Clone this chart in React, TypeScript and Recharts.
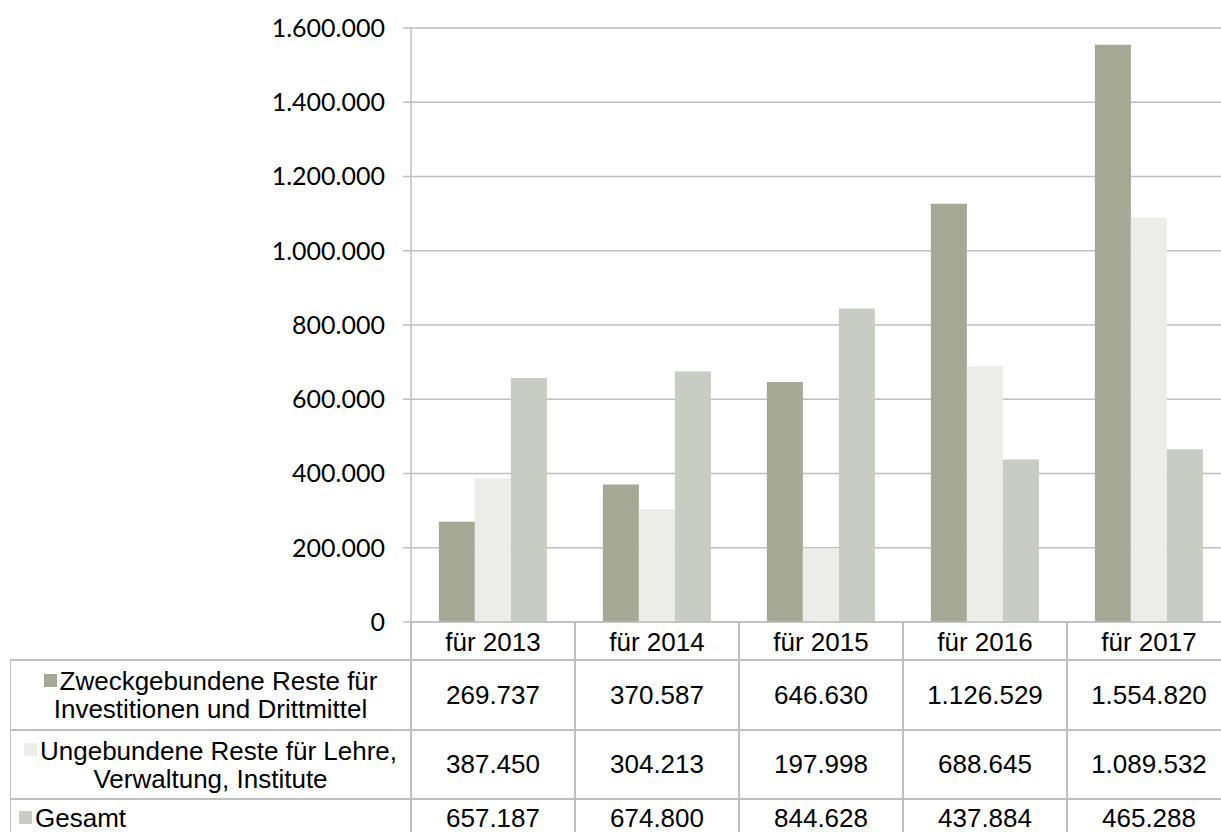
import { BarChart, Bar, XAxis, YAxis, CartesianGrid } from 'recharts';

const categories = ['für 2013', 'für 2014', 'für 2015', 'für 2016', 'für 2017'];
const zweckgebunden = [269737, 370587, 646630, 1126529, 1554820];
const ungebunden = [387450, 304213, 197998, 688645, 1089532];
const gesamt = [657187, 674800, 844628, 437884, 465288];
const yTicks = [0, 200000, 400000, 600000, 800000, 1000000, 1200000, 1400000, 1600000];

const seriesLabels = [
  ['Zweckgebundene Reste für', 'Investitionen und Drittmittel'],
  ['Ungebundene Reste für Lehre,', 'Verwaltung, Institute'],
  ['Gesamt'],
];
const colors = ['#A5A895', '#ECEDE8', '#C9CCC2'];

const fmt = (v: number) => String(v).replace(/\B(?=(\d{3})+(?!\d))/g, '.');

const data = categories.map((cat, i) => ({
  cat,
  zweck: zweckgebunden[i],
  ungeb: ungebunden[i],
  gesamt: gesamt[i],
}));
const rows = [zweckgebunden, ungebunden, gesamt];

// layout of the data table under the plot
const PLOT_LEFT = 411;
const COL_W = 164;
const AXIS_Y = 622;
const rowTops = [660, 730, 799];
const rowBottoms = [730, 799, 837];
const GRID = '#BFBFBF';
const FONT = '"Liberation Sans", Arial, sans-serif';

function Line({ x, y, w, h }: { x: number; y: number; w: number; h: number }) {
  return <div style={{ position: 'absolute', left: x, top: y, width: w, height: h, background: GRID }} />;
}

export default function App() {
  return (
    <div style={{ position: 'absolute', left: 0, top: 0, width: 1221, height: 832, overflow: 'hidden', background: '#fff' }}>
      <BarChart
        width={1240}
        height={660}
        data={data}
        margin={{ top: 28, right: 9, left: 0, bottom: 0 }}
        barCategoryGap="17%"
        barGap={0}
      >
        <CartesianGrid vertical={false} stroke={GRID} strokeWidth={1.5} />
        <XAxis
          dataKey="cat"
          height={38}
          interval={0}
          tickLine={false}
          tickSize={0}
          tickMargin={11}
          axisLine={{ stroke: GRID, strokeWidth: 1.5 }}
          tick={{ fontSize: 26, fontFamily: FONT, fill: '#000' }}
        />
        <YAxis
          width={411}
          domain={[0, 1600000]}
          ticks={yTicks}
          interval={0}
          tickFormatter={fmt}
          tickSize={8}
          tickMargin={18}
          axisLine={{ stroke: GRID, strokeWidth: 1.5 }}
          tickLine={{ stroke: GRID, strokeWidth: 1.5 }}
          tick={{ fontSize: 25, fontFamily: 'Lato, sans-serif', fill: '#000' }}
        />
        <Bar dataKey="zweck" fill={colors[0]} isAnimationActive={false} />
        <Bar dataKey="ungeb" fill={colors[1]} isAnimationActive={false} />
        <Bar dataKey="gesamt" fill={colors[2]} isAnimationActive={false} />
      </BarChart>

      {/* table grid */}
      {[0, 1, 2, 3, 4].map((i) => (
        <Line key={'v' + i} x={PLOT_LEFT + i * COL_W - 0.75} y={AXIS_Y} w={1.5} h={220} />
      ))}
      <Line x={9.5} y={rowTops[0]} w={1.5} h={200} />
      {rowTops.map((t, i) => (
        <Line key={'h' + i} x={10} y={t - 0.75} w={1221} h={1.5} />
      ))}
      <Line x={10} y={rowBottoms[2] - 0.75} w={1221} h={1.5} />

      {/* row labels */}
      {seriesLabels.map((lines, r) => (
        <div
          key={'l' + r}
          style={{
            position: 'absolute',
            left: r === 2 ? 19 : 10,
            top: rowTops[r],
            width: 401,
            height: rowBottoms[r] - rowTops[r],
            display: 'flex',
            flexDirection: 'column',
            justifyContent: 'center',
            alignItems: r === 2 ? 'flex-start' : 'center',
            fontFamily: FONT,
            fontSize: 26,
            lineHeight: '28px',
            color: '#000',
            whiteSpace: 'nowrap',
          }}
        >
          {lines.map((ln, k) => (
            <div key={k}>
              {k === 0 && (
                <span
                  style={{
                    display: 'inline-block',
                    width: 13,
                    height: 13,
                    background: colors[r],
                    marginRight: 3,
                    verticalAlign: 'middle',
                    position: 'relative',
                    top: -3,
                  }}
                />
              )}
              {ln}
            </div>
          ))}
        </div>
      ))}

      {/* values */}
      {rows.map((vals, r) =>
        vals.map((v, c) => (
          <div
            key={r + '-' + c}
            style={{
              position: 'absolute',
              left: PLOT_LEFT + c * COL_W,
              top: rowTops[r],
              width: COL_W,
              height: rowBottoms[r] - rowTops[r],
              display: 'flex',
              alignItems: 'center',
              justifyContent: 'center',
              fontFamily: FONT,
              fontSize: 26,
              color: '#000',
            }}
          >
            {fmt(v)}
          </div>
        ))
      )}
    </div>
  );
}
